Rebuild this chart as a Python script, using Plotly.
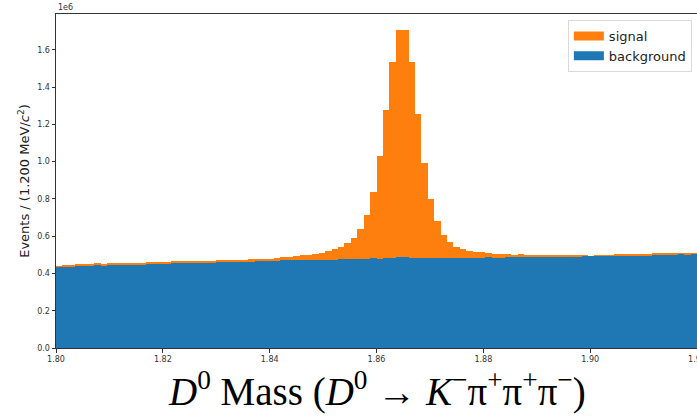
import numpy as np
import plotly.graph_objects as go

# Histogram binning: 100 bins of 1.2 MeV between 1.80 and 1.92 GeV
bin_lo = 1.80
bin_width = 0.0012
n_bins = 100

# Bin contents in units of 1e6 events
background = [
    0.438, 0.439, 0.439, 0.444, 0.445, 0.445, 0.446, 0.445, 0.449, 0.449,
    0.450, 0.449, 0.450, 0.449, 0.454, 0.453, 0.454, 0.455, 0.459, 0.458,
    0.459, 0.460, 0.459, 0.459, 0.460, 0.463, 0.463, 0.462, 0.464, 0.463,
    0.466, 0.467, 0.465, 0.467, 0.469, 0.470, 0.470, 0.471, 0.470, 0.471,
    0.472, 0.473, 0.473, 0.474, 0.475, 0.476, 0.477, 0.479, 0.480, 0.481,
    0.480, 0.482, 0.481, 0.488, 0.487, 0.481, 0.482, 0.481, 0.483, 0.482,
    0.482, 0.483, 0.482, 0.483, 0.484, 0.483, 0.484, 0.489, 0.484, 0.485,
    0.489, 0.488, 0.490, 0.489, 0.490, 0.490, 0.493, 0.492, 0.493, 0.493,
    0.492, 0.493, 0.494, 0.496, 0.495, 0.495, 0.494, 0.497, 0.497, 0.498,
    0.497, 0.498, 0.497, 0.502, 0.501, 0.502, 0.503, 0.505, 0.504, 0.506,
]

signal = [
    0.001, 0.003, 0.006, 0.006, 0.005, 0.005, 0.005, 0.005, 0.005, 0.005,
    0.005, 0.005, 0.005, 0.005, 0.005, 0.006, 0.005, 0.005, 0.004, 0.005,
    0.005, 0.003, 0.005, 0.004, 0.004, 0.006, 0.007, 0.007, 0.006, 0.011,
    0.010, 0.010, 0.014, 0.013, 0.014, 0.018, 0.019, 0.023, 0.027, 0.029,
    0.032, 0.038, 0.049, 0.055, 0.066, 0.085, 0.115, 0.161, 0.235, 0.357,
    0.549, 0.793, 1.054, 1.218, 1.219, 1.054, 0.774, 0.513, 0.319, 0.199,
    0.126, 0.085, 0.061, 0.046, 0.038, 0.032, 0.029, 0.019, 0.023, 0.017,
    0.013, 0.013, 0.012, 0.008, 0.006, 0.006, 0.003, 0.003, 0.003, 0.002,
    0.003, 0.003, 0.001, 0.000, 0.002, 0.001, 0.002, 0.003, 0.003, 0.003,
    0.003, 0.003, 0.003, 0.004, 0.005, 0.003, 0.003, 0.002, 0.002, 0.001,
]

x_ticks = [1.80, 1.82, 1.84, 1.86, 1.88, 1.90, 1.92]
y_ticks = [0.0, 0.2, 0.4, 0.6, 0.8, 1.0, 1.2, 1.4, 1.6]

colors = {"background": "#1f77b4", "signal": "#ff7f0e"}

centers = bin_lo + bin_width * (np.arange(n_bins) + 0.5)

fig = go.Figure()
fig.add_trace(go.Bar(
    x=centers, y=background, width=bin_width, name="background",
    marker=dict(color=colors["background"], line=dict(width=0)),
    showlegend=False,
))
fig.add_trace(go.Bar(
    x=centers, y=signal, width=bin_width, name="signal",
    marker=dict(color=colors["signal"], line=dict(width=0)),
    showlegend=False,
))

# Legend keys drawn as wide flat patches
for name in ["signal", "background"]:
    fig.add_trace(go.Scatter(
        x=[None], y=[None], mode="lines", name=name,
        line=dict(color=colors[name], width=9),
    ))

tick_font = dict(family="DejaVu Sans", size=8, color="#333333")

fig.update_layout(
    width=697, height=420,
    margin=dict(l=56, r=0, t=14, b=72),
    barmode="stack", bargap=0,
    plot_bgcolor="white", paper_bgcolor="white",
    showlegend=True,
    legend=dict(
        x=0.992, y=0.982, xanchor="right", yanchor="top",
        traceorder="normal", tracegroupgap=0,
        bgcolor="rgba(255,255,255,0.8)", bordercolor="#d9d9d9", borderwidth=1,
        font=dict(family="DejaVu Sans", size=13, color="#222222"),
        itemwidth=30,
    ),
    xaxis=dict(
        range=[1.80, 1.92], tickvals=x_ticks, tickformat=".2f",
        ticks="outside", ticklen=3.5, tickcolor="#333333",
        showline=True, linecolor="#333333", linewidth=1, mirror=True,
        showgrid=False, zeroline=False, tickfont=tick_font,
        ticklabeloverflow="allow", automargin=False,
    ),
    yaxis=dict(
        range=[0, 1.792], tickvals=y_ticks, tickformat=".1f",
        ticks="outside", ticklen=3.5, tickcolor="#333333",
        showline=True, linecolor="#333333", linewidth=1, mirror=True,
        showgrid=False, zeroline=False, tickfont=tick_font,
        title=dict(
            text="Events / (1.200 MeV/<i>c</i><sup>2</sup>)",
            font=dict(family="DejaVu Sans", size=13, color="#222222"),
            standoff=4,
        ),
    ),
    annotations=[
        dict(text="1e6", xref="paper", yref="paper", x=0.0, y=1.0,
             xanchor="left", yanchor="bottom", showarrow=False,
             font=dict(family="DejaVu Sans", size=8, color="#333333")),
        dict(text="<i>D</i><sup>0</sup> Mass (<i>D</i><sup>0</sup> → "
                  "<i>K</i><sup>−</sup>π<sup>+</sup>π<sup>+</sup>π<sup>−</sup>)",
             xref="paper", yref="paper", x=0.5, y=-0.125,
             xanchor="center", yanchor="middle", showarrow=False,
             font=dict(family="Liberation Serif", size=39, color="black")),
    ],
)

fig.write_html("out.html")
